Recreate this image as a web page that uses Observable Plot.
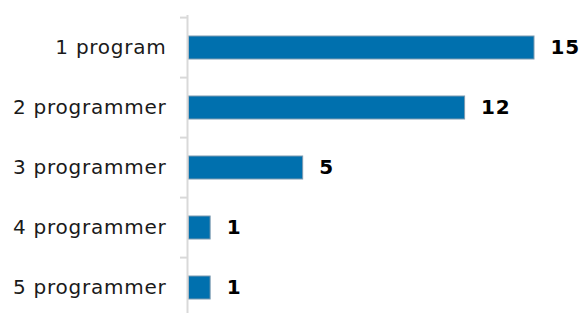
<!DOCTYPE html>
<html>
<head>
<meta charset="utf-8">
<script src="https://cdn.jsdelivr.net/npm/d3@7"></script>
<script src="https://cdn.jsdelivr.net/npm/@observablehq/plot@0.6"></script>
<style>
  html, body { margin: 0; padding: 0; background: #fff; }
  text { letter-spacing: 0.75px; }
</style>
</head>
<body>
<div id="chart"></div>
<script>
const categories = ["1 program", "2 programmer", "3 programmer", "4 programmer", "5 programmer"];
const counts = [15, 12, 5, 1, 1];

const data = categories.map((c, i) => ({category: c, count: counts[i]}));

const W = 581, H = 313;
const marginTop = 15, marginBottom = -6;
const step = (H - marginTop - marginBottom) / categories.length;

const chart = Plot.plot({
  width: W,
  height: H,
  marginLeft: 187,
  marginRight: 47,
  marginTop,
  marginBottom,
  style: {fontFamily: "'DejaVu Sans', Verdana, sans-serif", background: "#fff"},
  x: {domain: [0, 15], axis: null},
  y: {domain: categories, paddingInner: 0.62, paddingOuter: 0.31, axis: null},
  marks: [
    Plot.axisY({tickSize: 7, text: null, label: null, dy: -step / 2, stroke: "#d9d9d9", strokeWidth: 2}),
    Plot.axisY({tickSize: 0, tickPadding: 21, label: null, fontSize: 20, fill: "#1a1a1a"}),
    Plot.barX(data, {x: "count", y: "category", fill: "#0070ae", stroke: "#7d9ab0", strokeWidth: 1, insetLeft: 1.5}),
    Plot.ruleX([0], {stroke: "#d9d9d9", strokeWidth: 2}),
    Plot.text(data, {x: "count", y: "category", text: d => String(d.count), dx: 16, textAnchor: "start", fontWeight: "bold", fontSize: 20, fill: "#000"})
  ]
});
document.getElementById("chart").appendChild(chart);
</script>
</body>
</html>
